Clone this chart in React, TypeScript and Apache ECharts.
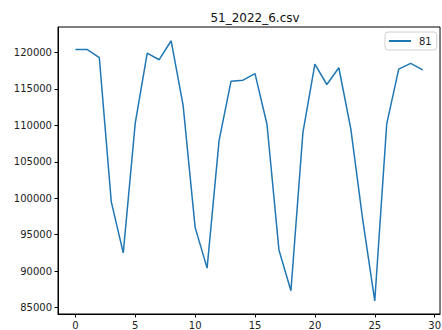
import React, { useEffect, useRef } from "react";
import * as echarts from "echarts";

const xValues = [0,1,2,3,4,5,6,7,8,9,10,11,12,13,14,15,16,17,18,19,20,21,22,23,24,25,26,27,28,29];
const seriesValues = [
  120400, 120400, 119300, 99500, 92500, 110300, 119900, 119000, 121600, 112700,
  96000, 90400, 107900, 116050, 116200, 117100, 110150, 92900, 87300, 109000,
  118400, 115600, 117900, 109500, 97000, 85900, 110200, 117700, 118500, 117600,
];
const xTicks = [0, 5, 10, 15, 20, 25, 30];
const yTicks = [85000, 90000, 95000, 100000, 105000, 110000, 115000, 120000];
const seriesName = "81";
const titleText = "51_2022_6.csv";

export default function App() {
  const ref = useRef<HTMLDivElement>(null);
  useEffect(() => {
    if (!ref.current) return;
    const chart = echarts.init(ref.current, null, { renderer: "svg" });
    const font = "DejaVu Sans";
    chart.setOption({
      animation: false,
      backgroundColor: "#fff",
      textStyle: { fontFamily: font },
      title: {
        text: titleText,
        left: 250,
        textAlign: "center",
        top: 7,
        textStyle: { fontSize: 12, fontWeight: "normal", color: "#111", fontFamily: font },
      },
      legend: {
        left: 385,
        top: 32,
        icon: "rect",
        itemWidth: 22,
        itemHeight: 2,
        padding: [4, 5, 4, 4],
        borderColor: "#d0d0d0",
        borderWidth: 1,
        borderRadius: 3,
        backgroundColor: "#fff",
        textStyle: { fontSize: 10, color: "#222", fontFamily: font, padding: [0, 0, 0, 3] },
        data: [seriesName],
      },
      grid: {
        left: 58,
        top: 27,
        right: 0,
        bottom: 16,
        show: true,
        borderColor: "#000",
        borderWidth: 1,
        backgroundColor: "transparent",
      },
      xAxis: {
        type: "value",
        min: -1.45,
        max: 30.45,
        splitLine: { show: false },
        axisLine: { show: true, onZero: false, lineStyle: { color: "#000", width: 1 } },
        axisTick: { show: true, length: 3.5, customValues: xTicks, lineStyle: { color: "#000" } },
        axisLabel: { customValues: xTicks, fontSize: 10, color: "#222", margin: 6, fontFamily: font },
      },
      yAxis: {
        type: "value",
        min: 84110,
        max: 123490,
        splitLine: { show: false },
        axisLine: { show: true, onZero: false, lineStyle: { color: "#000", width: 1 } },
        axisTick: { show: true, length: 3.5, customValues: yTicks, lineStyle: { color: "#000" } },
        axisLabel: {
          customValues: yTicks,
          fontSize: 10,
          color: "#222",
          margin: 6,
          fontFamily: font,
          formatter: (v: number) => String(v),
        },
      },
      series: [
        {
          name: seriesName,
          type: "line",
          data: xValues.map((x, i) => [x, seriesValues[i]]),
          showSymbol: false,
          symbol: "none",
          lineStyle: { color: "#1f77b4", width: 1.5 },
          itemStyle: { color: "#1f77b4" },
        },
      ],
    });
    return () => chart.dispose();
  }, []);
  return (
    <div
      ref={ref}
      style={{ position: "fixed", left: 0, top: 0, width: 444, height: 330 }}
    />
  );
}
